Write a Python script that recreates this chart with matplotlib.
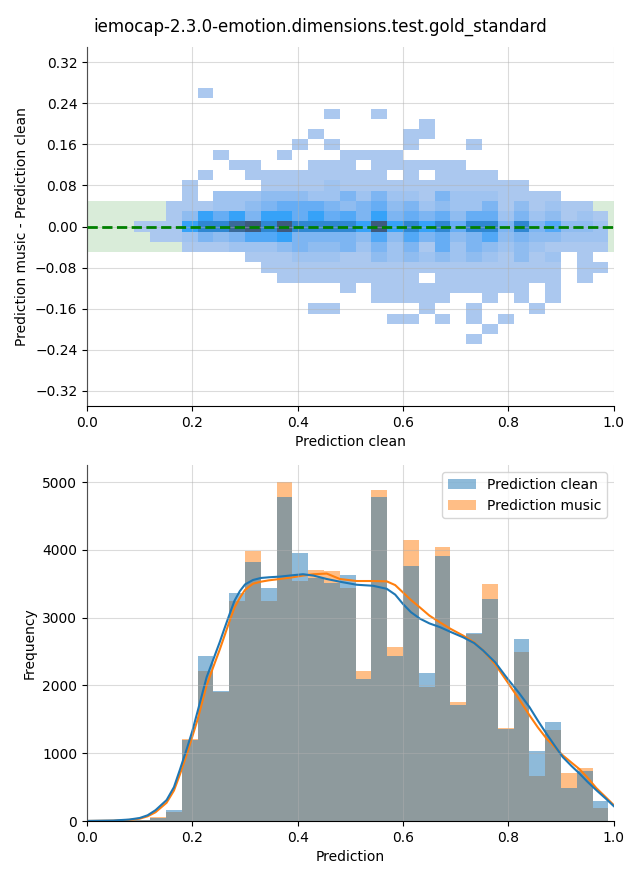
import numpy as np
import matplotlib
matplotlib.use("Agg")
import matplotlib.pyplot as plt
from matplotlib.colors import ListedColormap, BoundaryNorm
from matplotlib.patches import Patch

title = "iemocap-2.3.0-emotion.dimensions.test.gold_standard"

# histogram bins (width 0.03, 0 .. 0.99)
bin_width = 0.03
n_bins = 33

# counts per bin
clean_counts = [3, 5, 10, 20, 40, 165, 1200, 2430, 1925, 3370, 3825, 3430, 4780,
                3955, 3580, 3505, 3630, 2090, 4780, 2440, 3765, 2180, 3910, 1710,
                2770, 3280, 1355, 2690, 1030, 1455, 485, 735, 295]
music_counts = [2, 4, 8, 18, 55, 130, 1210, 2220, 1900, 3250, 3985, 3240, 5000,
                3545, 3705, 3690, 3430, 2220, 4880, 2570, 4150, 1970, 4045, 1760,
                2760, 3500, 1370, 2500, 660, 1340, 705, 780, 190]

# kde curves (x, frequency)
kde_x = [0.0, 0.05, 0.08, 0.1, 0.115, 0.13, 0.151, 0.165, 0.176, 0.19, 0.2,
         0.21, 0.227, 0.24, 0.252, 0.26, 0.271, 0.28, 0.29, 0.3, 0.315, 0.33,
         0.345, 0.366, 0.39, 0.41, 0.43, 0.455, 0.48, 0.512, 0.543, 0.569,
         0.585, 0.6, 0.615, 0.632, 0.65, 0.67, 0.69, 0.714, 0.735, 0.752,
         0.775, 0.796, 0.82, 0.84, 0.856, 0.872, 0.888, 0.903, 0.92, 0.935,
         0.95, 0.967, 0.985, 1.0]
kde_clean = [2, 8, 22, 45, 85, 160, 309, 500, 750, 1080, 1330, 1620, 2120, 2390,
             2640, 2820, 3060, 3250, 3390, 3490, 3555, 3585, 3595, 3605, 3625,
             3640, 3620, 3570, 3530, 3485, 3470, 3425, 3340, 3200, 3080, 2985,
             2915, 2860, 2790, 2710, 2625, 2515, 2340, 2122, 1890, 1680, 1480,
             1290, 1110, 945, 810, 700, 580, 455, 330, 220]
kde_music = [1, 5, 17, 35, 70, 130, 270, 450, 680, 1000, 1250, 1500, 2000, 2280,
             2530, 2710, 2960, 3150, 3290, 3410, 3500, 3530, 3550, 3570, 3595,
             3620, 3640, 3650, 3570, 3540, 3540, 3535, 3480, 3370, 3260, 3150,
             3030, 2930, 2835, 2735, 2635, 2515, 2310, 2075, 1800, 1560, 1380,
             1220, 1090, 970, 860, 765, 640, 485, 350, 235]

# 2d histogram: relative density level per cell (0 = empty, a = 10)
# rows from difference 0.27 (top) down to -0.23, columns 0.00 .. 0.99 by 0.03
y_top = 0.27
y_step = 0.02
density_rows = [
    "000 000 010",
    "000",
    "000 000 000 000 000 100 100",
    "000 000 000 000 000 000 000 100",
    "000 000 000 000 001 000 001 100",
    "000 000 000 000 010 100 001 000 100",
    "000 000 001 000 100 011 110",
    "000 000 000 110 001 110 111 111",
    "000 000 010 011 111 111 101 011 110",
    "000 000 100 001 111 211 111 111 111 100",
    "000 000 102 223 332 242 422 142 221 111",
    "000 001 112 234 555 434 534 232 241 312 110",
    "000 001 375 747 757 564 745 453 552 423 121",
    "000 111 788 9a8 a88 887 a78 785 884 846 332",
    "000 011 243 466 744 443 636 453 463 433 222",
    "000 000 111 222 343 342 424 152 432 321 111",
    "000 000 000 011 122 211 323 232 321 312 010",
    "000 000 000 001 111 111 111 111 111 111 011",
    "000 000 000 000 111 111 111 011 111 111 010",
    "000 000 000 000 000 010 111 111 111 101",
    "000 000 000 000 000 000 111 110 010 101",
    "000 000 000 000 001 100 000 100 100 010",
    "000 000 000 000 000 000 011 010 101",
    "000 000 000 000 000 000 000 000 010",
    "000 000 000 000 000 000 000 000 100",
]

level_colors = ["#abc8ef", "#9fc3f0", "#8fbcf0", "#7db5f2", "#66adf4",
                "#52a8f6", "#36a2f8", "#2f87d2", "#3a6a9a", "#3e5a7e"]

grid = []
for row in density_rows:
    s = row.replace(" ", "").ljust(n_bins, "0")
    grid.append([int(ch, 16) for ch in s])
grid = np.array(grid[::-1], dtype=float)
grid = np.ma.masked_equal(grid, 0)

x_edges = np.arange(n_bins + 1) * bin_width
n_rows = grid.shape[0]
y_edges = y_top - y_step * n_rows + np.arange(n_rows + 1) * y_step

fig = plt.figure(figsize=(6.4, 8.8), dpi=100)
fig.suptitle(title, fontsize=12, y=0.98)

# top: difference vs clean prediction
ax1 = fig.add_axes([0.136, 0.5386, 0.823, 0.408])
ax1.axhspan(-0.05, 0.05, color="green", alpha=0.15, lw=0, zorder=0)
cmap = ListedColormap(level_colors)
norm = BoundaryNorm(np.arange(0.5, 11.5, 1), cmap.N)
ax1.pcolormesh(x_edges, y_edges, grid, cmap=cmap, norm=norm, zorder=1)
ax1.axhline(0, color="green", ls="--", lw=2, zorder=3)
ax1.set_xlim(0, 1)
ax1.set_ylim(-0.35, 0.35)
ax1.set_yticks(np.round(np.arange(-4, 5) * 0.08, 2))
ax1.set_axisbelow(False)
ax1.grid(True, color="#b0b0b0", alpha=0.45, lw=0.8)
ax1.set_xlabel("Prediction clean")
ax1.set_ylabel("Prediction music - Prediction clean")
ax1.spines["top"].set_visible(False)
ax1.spines["right"].set_visible(False)

# bottom: histograms + kde
ax2 = fig.add_axes([0.136, 0.067, 0.823, 0.4045])
left = np.arange(n_bins) * bin_width
ax2.bar(left, music_counts, width=bin_width, align="edge", color="#ff7f0e",
        alpha=0.5, lw=0)
ax2.bar(left, clean_counts, width=bin_width, align="edge", color="#1f77b4",
        alpha=0.5, lw=0)
ax2.plot(kde_x, kde_music, color="#ff7f0e", lw=1.5)
ax2.plot(kde_x, kde_clean, color="#1f77b4", lw=1.5)
ax2.set_xlim(0, 1)
ax2.set_ylim(0, 5250)
ax2.set_yticks([0, 1000, 2000, 3000, 4000, 5000])
ax2.set_axisbelow(False)
ax2.grid(True, color="#b0b0b0", alpha=0.45, lw=0.8)
ax2.set_xlabel("Prediction")
ax2.set_ylabel("Frequency")
ax2.spines["top"].set_visible(False)
ax2.spines["right"].set_visible(False)
handles = [Patch(color="#1f77b4", alpha=0.5, lw=0), Patch(color="#ff7f0e", alpha=0.5, lw=0)]
ax2.legend(handles, ["Prediction clean", "Prediction music"], loc="upper right")

fig.savefig("out.png", dpi=100)
